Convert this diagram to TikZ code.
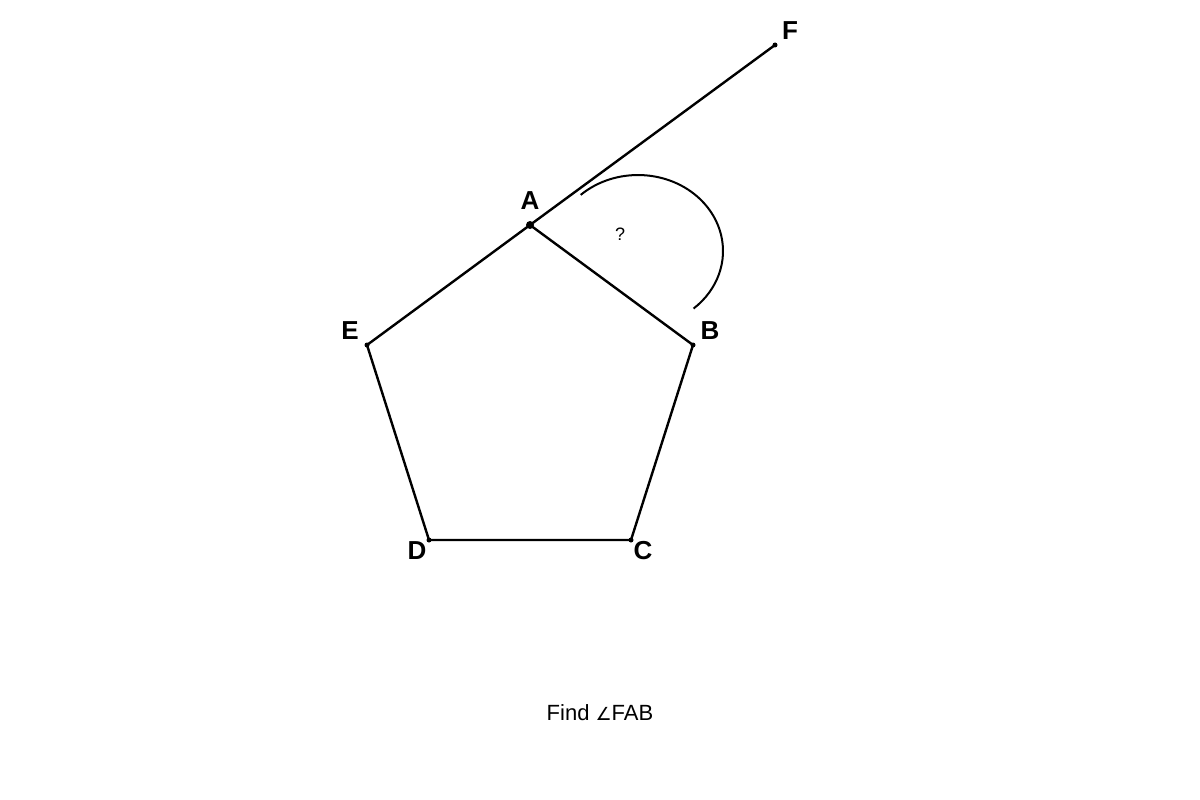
\documentclass[tikz,border=0pt]{standalone}
\usepackage{fontspec}
\setmainfont{Liberation Sans}
\newfontfamily\symfont{DejaVu Sans}
\begin{document}
\begin{tikzpicture}[x=1pt,y=-1pt,
  seg/.style={line width=2.4pt,black},
  vdot/.style={circle,fill=black,inner sep=0pt,minimum size=5pt},
  adot/.style={circle,fill=black,inner sep=0pt,minimum size=8pt},
  vlabel/.style={font=\fontsize{26}{26}\selectfont\bfseries,inner sep=0pt}]
\useasboundingbox[fill=white] (0,0) rectangle (1200,800);
\node[adot] (A) at (530,225) {};
\node[vdot] (B) at (693,345) {};
\node[vdot] (C) at (631,540) {};
\node[vdot] (D) at (429,540) {};
\node[vdot] (E) at (367,345) {};
\node[vdot] (F) at (775,45) {};
\draw[seg] (A.center) -- (B.center) -- (C.center) -- (D.center) -- (E.center) -- (A.center);
\draw[seg] (A.center) -- (F.center);
\coordinate (arcstart) at (580.7,194.9);
\draw[line width=2pt] (arcstart) arc[start angle=-132.4,end angle=49.2,x radius=85,y radius=76];
\node[vlabel] (lA) at (530,201) {A};
\node[vlabel] (lB) at (710,331) {B};
\node[vlabel] (lC) at (643,551) {C};
\node[vlabel] (lD) at (417,551) {D};
\node[vlabel] (lE) at (350,331) {E};
\node[vlabel] (lF) at (790,31) {F};
\node[font=\fontsize{18}{18}\selectfont,inner sep=0pt] (q) at (620,234) {?};
\node[font=\fontsize{22}{22}\selectfont,inner sep=0pt] (cap) at (600,713) {Find {\symfont\fontsize{18}{18}\selectfont ∠}FAB};
\end{tikzpicture}
\end{document}
